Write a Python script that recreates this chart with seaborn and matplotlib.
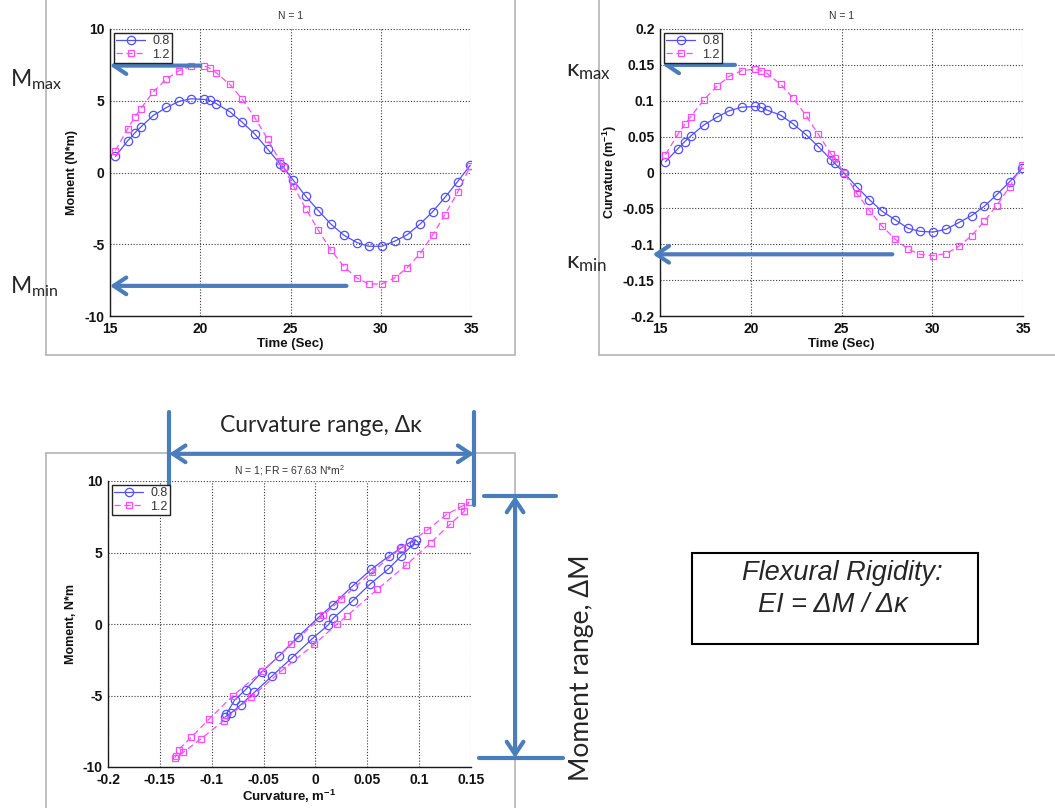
import numpy as np
import pandas as pd
import matplotlib
matplotlib.use("Agg")
import matplotlib.pyplot as plt
import seaborn as sns
from matplotlib.lines import Line2D
from matplotlib.patches import Rectangle

# ---------------- data ----------------
series_labels = ["0.8", "1.2"]
time_s = [15.3, 15.98, 16.36, 16.7, 17.4, 18.13, 18.81, 19.5, 20.22, 20.54, 20.9, 21.64,
          22.32, 23.03, 23.73, 24.42, 24.62, 25.15, 25.84, 26.54, 27.24, 27.96, 28.68, 29.33,
          30.05, 30.77, 31.45, 32.17, 32.87, 33.55, 34.26, 34.96]
moment_08 = [1.12, 2.21, 2.74, 3.16, 3.98, 4.53, 4.95, 5.14, 5.09, 5.02, 4.79, 4.23, 3.51, 2.67,
             1.63, 0.60, 0.35, -0.53, -1.65, -2.65, -3.60, -4.37, -4.88, -5.14, -5.14, -4.79,
             -4.35, -3.60, -2.74, -1.74, -0.63, 0.51]
moment_12 = [1.53, 3.05, 3.84, 4.44, 5.63, 6.51, 7.09, 7.40, 7.42, 7.26, 6.93, 6.14, 5.12, 3.81,
             2.33, 0.79, 0.35, -0.91, -2.51, -4.02, -5.40, -6.56, -7.35, -7.77, -7.77, -7.35,
             -6.65, -5.67, -4.37, -2.95, -1.37, 0.42]
curv_08 = [0.015, 0.033, 0.043, 0.051, 0.066, 0.077, 0.086, 0.091, 0.092, 0.091, 0.087, 0.080,
           0.068, 0.053, 0.036, 0.018, 0.013, -0.001, -0.020, -0.038, -0.054, -0.066, -0.078,
           -0.082, -0.083, -0.079, -0.070, -0.060, -0.047, -0.031, -0.013, 0.006]
curv_12 = [0.025, 0.053, 0.067, 0.078, 0.101, 0.120, 0.134, 0.142, 0.144, 0.142, 0.138, 0.123,
           0.104, 0.080, 0.053, 0.026, 0.020, -0.001, -0.029, -0.053, -0.075, -0.093, -0.107,
           -0.114, -0.116, -0.113, -0.103, -0.088, -0.068, -0.046, -0.020, 0.010]

loop_k_08 = [-0.086, -0.0777, -0.0674, -0.0516, -0.035, -0.0166, 0.0037, 0.017, 0.036, 0.054,
             0.0707, 0.0825, 0.091, 0.0965, 0.0947, 0.0825, 0.070, 0.053, 0.036, 0.017, 0.012,
             -0.003, -0.0225, -0.0416, -0.059, -0.0718, -0.081, -0.087]
loop_m_08 = [-6.3, -5.3, -4.6, -3.35, -2.23, -0.88, 0.51, 1.35, 2.67, 3.83, 4.74, 5.32, 5.7, 5.9,
             5.6, 4.74, 3.83, 2.81, 1.63, 0.39, -0.09, -1.02, -2.35, -3.62, -4.79, -5.64, -6.2, -6.5]
loop_k_12 = [-0.1356, -0.132, -0.1197, -0.1024, -0.0796, -0.0516, -0.0232, 0.0074, 0.0247, 0.055,
             0.0825, 0.1076, 0.126, 0.1408, 0.148, 0.1433, 0.1297, 0.1113, 0.0873, 0.0597, 0.0302,
             0.021, -0.0011, -0.0324, -0.0619, -0.0884, -0.1105, -0.1275, -0.1345]
loop_m_12 = [-9.36, -8.78, -7.92, -6.64, -5.02, -3.32, -1.42, 0.60, 1.72, 3.65, 5.32, 6.55, 7.64,
             8.22, 8.52, 7.87, 6.97, 5.69, 4.11, 2.42, 0.56, 0.0, -1.42, -3.25, -5.11, -6.76, -8.04,
             -8.97, -9.2]

time_ticks = [15, 20, 25, 30, 35]
time_tick_labels = ["15", "20", "25", "30", "35"]
moment_ticks = [-10, -5, 0, 5, 10]
moment_tick_labels = ["-10", "-5", "0", "5", "10"]
curv_ticks = [-0.2, -0.15, -0.1, -0.05, 0, 0.05, 0.1, 0.15, 0.2]
curv_tick_labels = ["-0.2", "-0.15", "-0.1", "-0.05", "0", "0.05", "0.1", "0.15", "0.2"]
loop_k_ticks = [-0.2, -0.15, -0.1, -0.05, 0, 0.05, 0.1, 0.15]
loop_k_tick_labels = ["-0.2", "-0.15", "-0.1", "-0.05", "0", "0.05", "0.1", "0.15"]

# ---------------- style ----------------
sns.set_theme(style="white")
plt.rcParams['font.family'] = ['Liberation Sans', 'DejaVu Sans']
plt.rcParams['mathtext.default'] = 'regular'

W, H = 1055, 808
fig = plt.figure(figsize=(W / 100, H / 100), dpi=100)
fig.patch.set_facecolor('white')


def rect(l, t, r, b):
    return [l / W, 1 - b / H, (r - l) / W, (b - t) / H]


def fpt(x, y):
    return (x / W, 1 - y / H)


BLUE = '#5050ff'
PINK = '#ff4cff'
ARROW = '#4a7ebb'
FRAME = '#b4b4b4'
CAL = ['Lato', 'DejaVu Sans']

blue_kw = dict(color=BLUE, marker='o', markersize=6, markerfacecolor='none',
               markeredgecolor=BLUE, markeredgewidth=0.9, linewidth=0.9, linestyle='-')
pink_kw = dict(color=PINK, marker='s', markersize=5, markerfacecolor='none',
               markeredgecolor=PINK, markeredgewidth=0.9, linewidth=0.9, linestyle=(0, (5, 3)))

ax1 = fig.add_axes(rect(110, 29, 471, 316))
ax2 = fig.add_axes(rect(660, 29, 1023, 316))
ax3 = fig.add_axes(rect(108, 481, 471, 767))

df_t = pd.DataFrame({"t": time_s, "m08": moment_08, "m12": moment_12,
                     "k08": curv_08, "k12": curv_12})
df_l08 = pd.DataFrame({"k": loop_k_08, "m": loop_m_08})
df_l12 = pd.DataFrame({"k": loop_k_12, "m": loop_m_12})

sns.lineplot(data=df_t, x="t", y="m08", ax=ax1, sort=False, estimator=None, label=series_labels[0], **blue_kw)
sns.lineplot(data=df_t, x="t", y="m12", ax=ax1, sort=False, estimator=None, label=series_labels[1], **pink_kw)
sns.lineplot(data=df_t, x="t", y="k08", ax=ax2, sort=False, estimator=None, label=series_labels[0], **blue_kw)
sns.lineplot(data=df_t, x="t", y="k12", ax=ax2, sort=False, estimator=None, label=series_labels[1], **pink_kw)
sns.lineplot(data=df_l08, x="k", y="m", ax=ax3, sort=False, estimator=None, label=series_labels[0], **blue_kw)
sns.lineplot(data=df_l12, x="k", y="m", ax=ax3, sort=False, estimator=None, label=series_labels[1], **pink_kw)


def style_axes(ax, xt, xtl, yt, ytl, xlabel, ylabel, title, xlc, ylc, tpad):
    ax.set_xlim(xt[0], xt[-1])
    ax.set_ylim(yt[0], yt[-1])
    ax.set_xticks(xt, labels=xtl)
    ax.set_yticks(yt, labels=ytl)
    ax.grid(True, linestyle=(0, (1, 1.6)), color='#3a3a3a', linewidth=0.8)
    ax.set_axisbelow(True)
    sns.despine(ax=ax)
    for s in ['left', 'bottom']:
        ax.spines[s].set_color('#1a1a1a')
        ax.spines[s].set_linewidth(1.0)
    ax.tick_params(axis='both', direction='in', length=3, width=0.8, color='#1a1a1a',
                   labelsize=10, pad=4, labelcolor='#111111')
    for lab in ax.get_xticklabels() + ax.get_yticklabels():
        lab.set_fontweight('bold')
    ax.set_xlabel(xlabel, fontsize=9.5, fontweight='bold', color='#111111')
    ax.set_ylabel(ylabel, fontsize=9, fontweight='bold', color='#111111')
    ax.xaxis.set_label_coords(0.5, xlc)
    ax.yaxis.set_label_coords(ylc, 0.5)
    ax.set_title(title, fontsize=7.5, color='#333333', pad=tpad)
    leg = ax.legend(loc='upper left', frameon=True, fancybox=False, edgecolor='#222222',
                    framealpha=1, fontsize=9, handlelength=2.3, borderpad=0.2,
                    labelspacing=0.1, borderaxespad=0.3, handletextpad=0.6)
    leg.get_frame().set_linewidth(1.0)
    for t in leg.get_texts():
        t.set_color('#333333')


style_axes(ax1, time_ticks, time_tick_labels, moment_ticks, moment_tick_labels,
           "Time (Sec)", "Moment (N*m)", "N = 1", -0.075, -0.088, 7)
style_axes(ax2, time_ticks, time_tick_labels, curv_ticks, curv_tick_labels,
           "Time (Sec)", "Curvature (m$^{-1}$)", "N = 1", -0.075, -0.113, 7)
style_axes(ax3, loop_k_ticks, loop_k_tick_labels, moment_ticks, moment_tick_labels,
           "Curvature, m$^{-1}$", "Moment, N*m", "N = 1; FR = 67.63 N*m$^2$", -0.073, -0.085, 5)

# ---------------- annotations ----------------
ap = dict(arrowstyle='->,head_length=0.45,head_width=0.3', color=ARROW, lw=3,
          shrinkA=0, shrinkB=0, mutation_scale=20)
ap2 = dict(arrowstyle='<->,head_length=0.45,head_width=0.3', color=ARROW, lw=3,
           shrinkA=0, shrinkB=0, mutation_scale=20)

ax1.annotate('', xy=(15.0, 7.45), xytext=(20.0, 7.45), arrowprops=ap, annotation_clip=False)
ax1.annotate('', xy=(15.0, -7.9), xytext=(28.1, -7.9), arrowprops=ap, annotation_clip=False)
ax2.annotate('', xy=(15.15, 0.15), xytext=(19.13, 0.15), arrowprops=ap, annotation_clip=False)
ax2.annotate('', xy=(14.6, -0.114), xytext=(27.8, -0.114), arrowprops=ap, annotation_clip=False)

# curvature range
k_lo, k_hi = -0.141, 0.153
ax3.annotate('', xy=(k_hi, 11.9), xytext=(k_lo, 11.9), arrowprops=ap2, annotation_clip=False)
ax3.add_line(Line2D([k_lo, k_lo], [9.0, 14.8], color=ARROW, lw=3, clip_on=False))
ax3.add_line(Line2D([k_hi, k_hi], [8.3, 14.8], color=ARROW, lw=3, clip_on=False))
# moment range
m_hi, m_lo = 8.95, -9.37
ax3.annotate('', xy=(0.1925, m_hi), xytext=(0.1925, m_lo), arrowprops=ap2, annotation_clip=False)
ax3.add_line(Line2D([0.1626, 0.232], [m_hi, m_hi], color=ARROW, lw=3, clip_on=False))
ax3.add_line(Line2D([0.1578, 0.2388], [m_lo, m_lo], color=ARROW, lw=3, clip_on=False))

# frames (gray image borders)
def fline(x0, y0, x1, y1):
    fig.add_artist(Line2D([x0 / W, x1 / W], [1 - y0 / H, 1 - y1 / H], color=FRAME, lw=1.2,
                          transform=fig.transFigure, zorder=0))

fline(46, 0, 46, 355); fline(46, 355, 515, 355); fline(515, 0, 515, 355)
fline(599, 0, 599, 355); fline(599, 355, 1055, 355)
fline(46, 453, 46, 808); fline(46, 453, 515, 453); fline(515, 453, 515, 808)

# texts
fig.text(*fpt(10, 86), "M$_{max}$", fontsize=16.5, family=CAL, va='baseline', ha='left')
fig.text(*fpt(10, 293), "M$_{min}$", fontsize=16.5, family=CAL, va='baseline', ha='left')
fig.text(*fpt(566, 76), "κ$_{max}$", fontsize=17.5, family=CAL, va='baseline', ha='left')
fig.text(*fpt(566, 268), "κ$_{min}$", fontsize=17.5, family=CAL, va='baseline', ha='left')
fig.text(*fpt(321, 432), "Curvature range, Δκ", fontsize=16.5, family=CAL, va='baseline', ha='center')
fig.text(*fpt(582, 668), "Moment range, ΔM", fontsize=19, family=CAL, rotation=90,
         va='center', ha='center')

fig.add_artist(Rectangle(fpt(692, 644), (978 - 692) / W, (644 - 553) / H, fill=False,
                         edgecolor='black', lw=1.5, transform=fig.transFigure))
fig.text(*fpt(842, 580), "Flexural Rigidity:", fontsize=19.5, style='italic',
         family=['Liberation Sans', 'DejaVu Sans'], va='baseline', ha='center')
fig.text(*fpt(833, 612), "EI = ΔM / Δκ", fontsize=19.5, style='italic',
         family=['Liberation Sans', 'DejaVu Sans'], va='baseline', ha='center')

fig.savefig("out.png", dpi=100, facecolor='white')
